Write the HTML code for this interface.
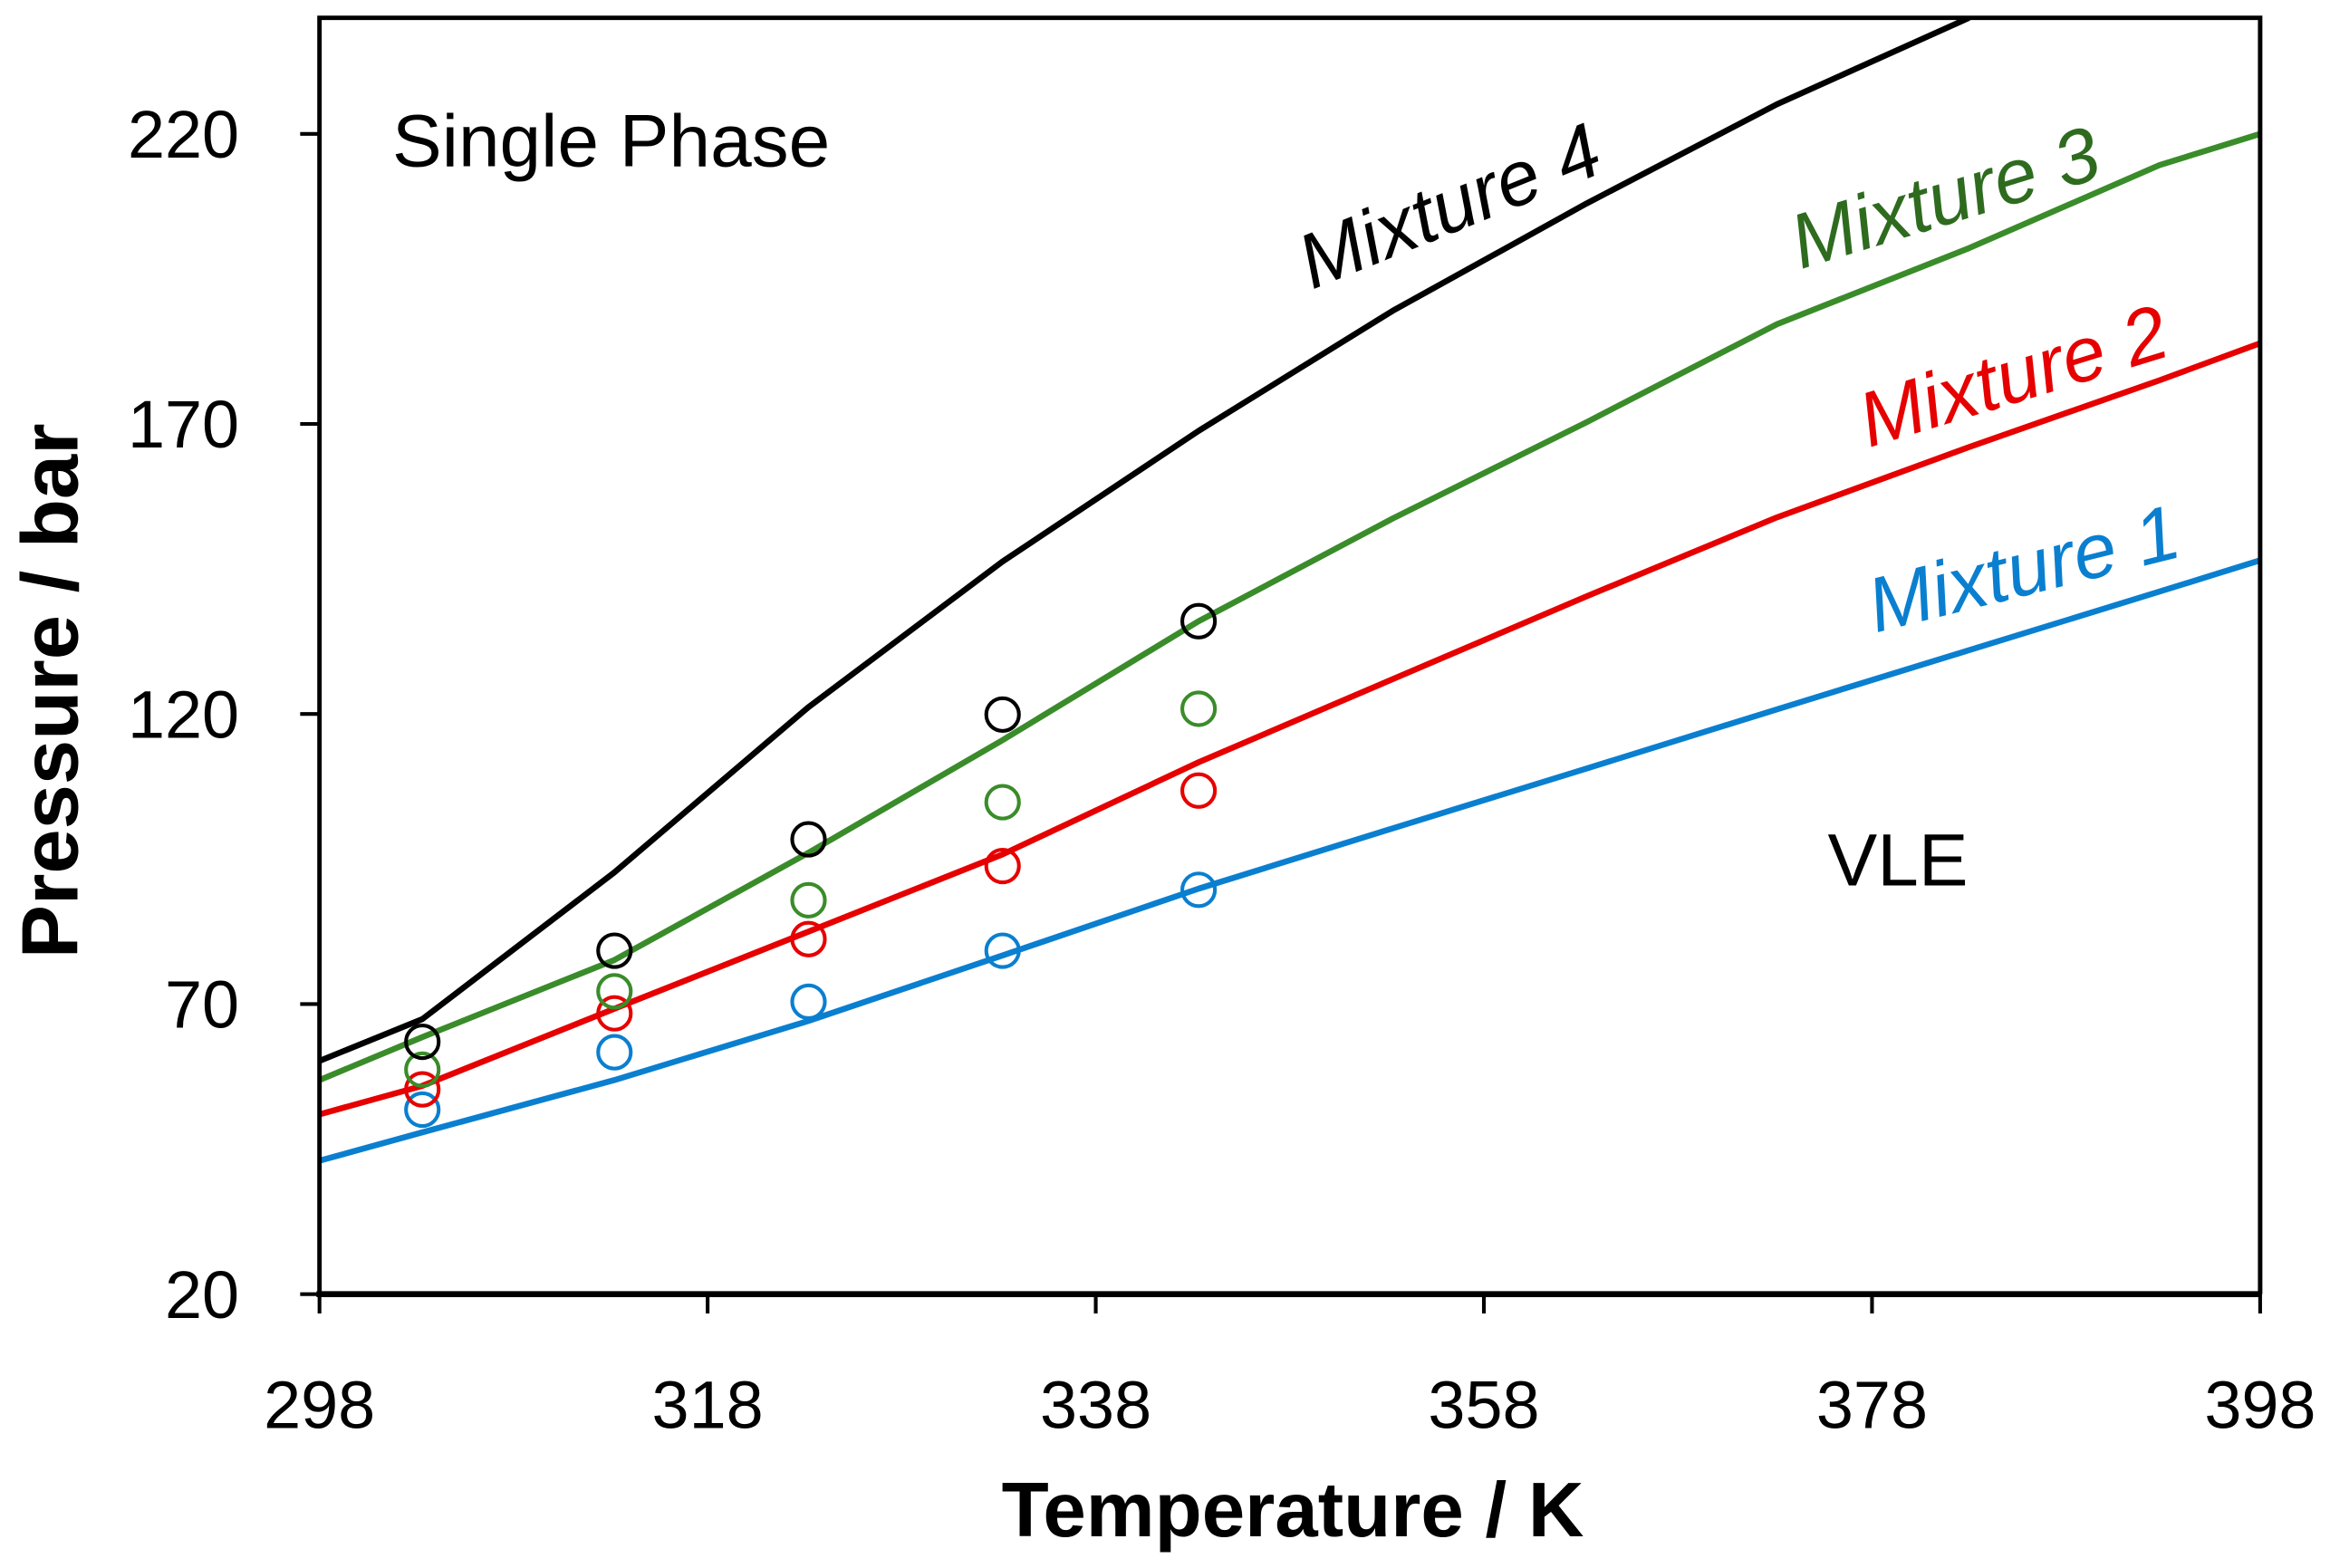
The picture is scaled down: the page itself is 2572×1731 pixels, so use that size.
<!DOCTYPE html>
<html><head><meta charset="utf-8"><style>
html,body{margin:0;padding:0;background:#fff;}
svg{display:block;font-family:"Liberation Sans",sans-serif;}
</style></head><body>
<svg id="chart" width="2572" height="1731" viewBox="0 0 1568 1055.3" xmlns="http://www.w3.org/2000/svg">
<g id="plot"></g>
</svg>
<script>
const xTicks = [298,318,338,358,378,398];
const yTicks = [20,70,120,170,220];
const lineT = [298,303.3,313.2,323.2,333.2,343.3,353.3,363.3,373.1,383,392.8,398];
const mix4Line = [60.2,67.4,92.7,121.2,146.3,168.8,189.5,208,225.1,240,null,null];
const mix3Line = [56.9,64.3,77.6,96.1,115.5,136,153.7,170.3,187.2,200.3,214.6,220];
const mix2Line = [51,55.9,69.2,82.5,95.8,111.7,126,140.3,153.9,166,177.5,183.9];
const mix1Line = [43,47.9,56.9,67.1,78.4,89.9,100.3,110.6,120.8,131,141.1,146.5];
const pointT = [303.3,313.2,323.2,333.2,343.3];
const mix4Pts = [63.5,79.2,98.4,119.9,136];
const mix3Pts = [58.7,72.2,87.9,104.8,120.9];
const mix2Pts = [55.3,68.4,81.2,93.8,106.8];
const mix1Pts = [51.8,61.7,70.4,79.2,89.7];

const L=215,R=1521,T=12,B=871, xMin=298,xMax=398,yMin=20,yMax=240;
const sx=v=>L+(v-xMin)/(xMax-xMin)*(R-L);
const sy=v=>B-(v-yMin)/(yMax-yMin)*(B-T);
const NS="http://www.w3.org/2000/svg";
const g=document.getElementById('plot');
function mk(tag,attrs,parent){const e=document.createElementNS(NS,tag);for(const k in attrs)e.setAttribute(k,attrs[k]);(parent||g).appendChild(e);return e;}

const clip=mk('clipPath',{id:'clip'});mk('rect',{x:L,y:T,width:R-L,height:B-T},clip);

const series=[
 {name:'mixture-1',color:'#0a7fd0',line:mix1Line,pts:mix1Pts},
 {name:'mixture-2',color:'#e60000',line:mix2Line,pts:mix2Pts},
 {name:'mixture-3',color:'#3a8c2a',line:mix3Line,pts:mix3Pts},
 {name:'mixture-4',color:'#000000',line:mix4Line,pts:mix4Pts}
];
series.forEach(s=>{
  let d='';lineT.forEach((t,i)=>{if(s.line[i]==null)return;d+=(d?'L':'M')+sx(t).toFixed(1)+','+sy(s.line[i]).toFixed(1);});
  const p=mk('path',{d:d,fill:'none',stroke:s.color,'stroke-width':4,'clip-path':'url(#clip)','stroke-linejoin':'round'});
  
  
});
series.forEach(s=>{
  pointT.forEach((t,i)=>{
    const c=mk('circle',{cx:sx(t),cy:sy(s.pts[i]),r:11,fill:'none',stroke:s.color,'stroke-width':2.5});
    
    
  });
});

const box=mk('path',{d:`M${L},${B}L${L},${T}L${R},${T}L${R},${B}`,fill:'none',stroke:'#000','stroke-width':3});


const xa=mk('line',{x1:L-2,y1:B,x2:R+1,y2:B,stroke:'#000','stroke-width':4});



xTicks.forEach(v=>{
  const t=mk('line',{x1:sx(v),y1:B,x2:sx(v),y2:B+13,stroke:'#000','stroke-width':2.5});
  
  
  const tx=mk('text',{x:sx(v),y:B+90,'text-anchor':'middle','font-size':45,fill:'#000'});
  tx.textContent=v;
  
  
});
yTicks.forEach(v=>{
  const t=mk('line',{x1:L-13,y1:sy(v),x2:L,y2:sy(v),stroke:'#000','stroke-width':2.5});
  
  
  const tx=mk('text',{x:161,y:sy(v)+16,'text-anchor':'end','font-size':45,fill:'#000'});
  tx.textContent=v;
  
  
});
</script>
<script>
(function(){
const NS="http://www.w3.org/2000/svg";const g=document.getElementById('plot');
function t(txt,attrs,name){const e=document.createElementNS(NS,'text');for(const k in attrs)e.setAttribute(k,attrs[k]);e.textContent=txt;


g.appendChild(e);}
t('Temperature / K',{x:870,y:1034,'text-anchor':'middle','font-size':52,'font-weight':'bold'},'x-axis-title');
t('Pressure / bar',{x:0,y:0,'text-anchor':'middle','font-size':54,'font-weight':'bold',transform:'translate(52,465) rotate(-90)'},'y-axis-title');
t('Single Phase',{x:264,y:112,'font-size':50},'single-phase-label');
t('VLE',{x:1230,y:596,'font-size':50},'vle-label');
t('Mixture 4',{x:0,y:0,'text-anchor':'middle','font-size':52,'font-style':'italic',transform:'translate(982,155) rotate(-22)'},'mixture-4-label');
t('Mixture 3',{x:0,y:0,'text-anchor':'middle','font-size':52,'font-style':'italic',fill:'#2e6b1f',transform:'translate(1314,150) rotate(-17)'},'mixture-3-label');
t('Mixture 2',{x:0,y:0,'text-anchor':'middle','font-size':52,'font-style':'italic',fill:'#e60000',transform:'translate(1360,270) rotate(-17)'},'mixture-2-label');
t('Mixture 1',{x:0,y:0,'text-anchor':'middle','font-size':52,'font-style':'italic',fill:'#0a7fd0',transform:'translate(1366,400) rotate(-14)'},'mixture-1-label');
})();
</script>
</body></html>
